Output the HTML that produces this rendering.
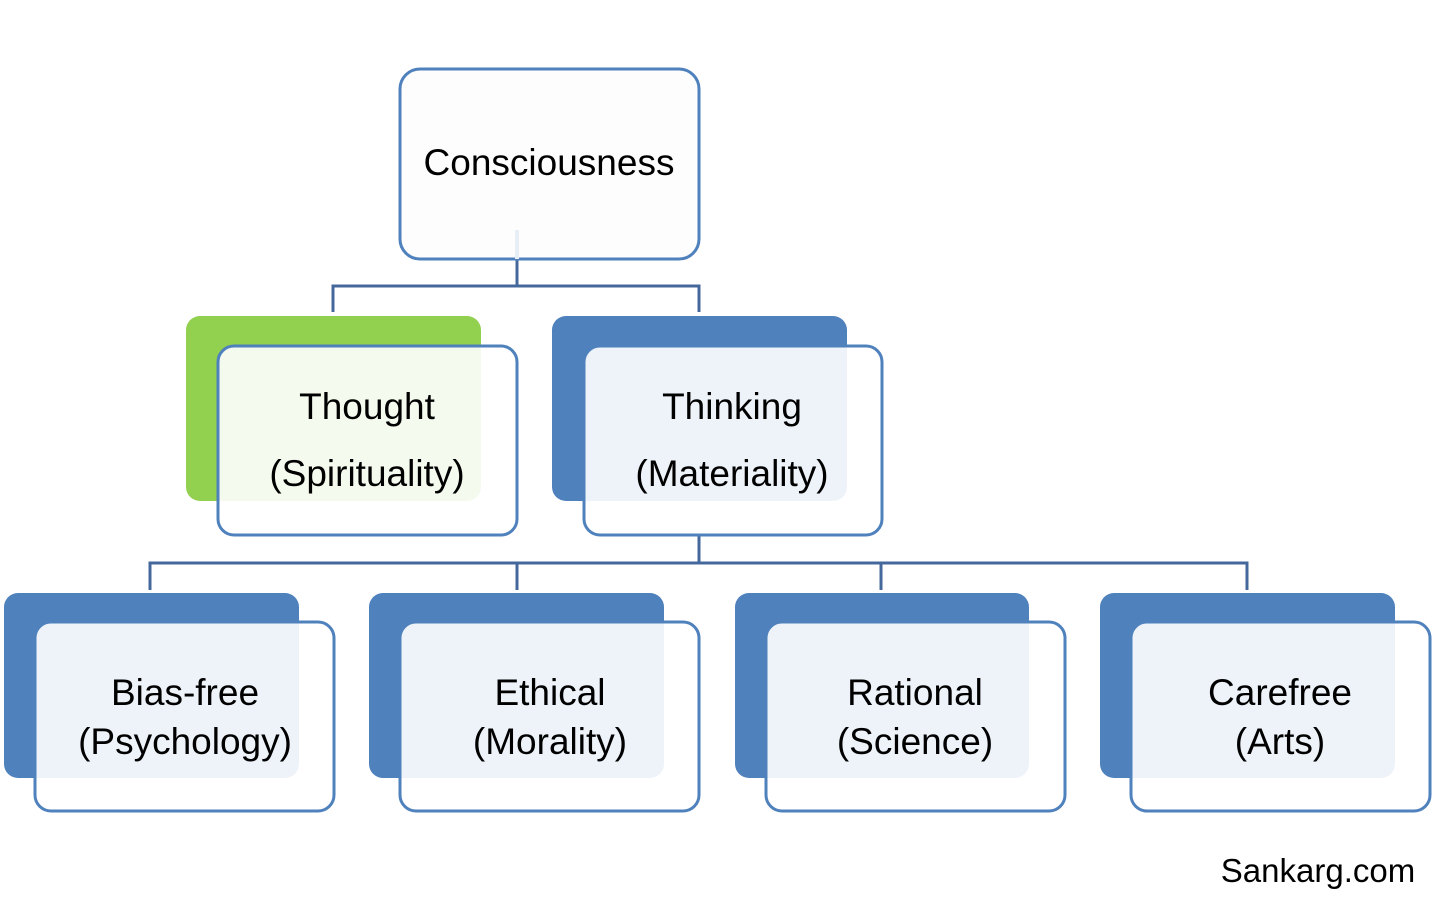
<!DOCTYPE html>
<html><head><meta charset="utf-8"><style>
html,body{margin:0;padding:0;background:#fff;width:1449px;height:914px;overflow:hidden}
text{font-family:"Liberation Sans",sans-serif;fill:#000;text-anchor:middle}
</style></head><body>
<svg width="1449" height="914" viewBox="0 0 1449 914" xmlns="http://www.w3.org/2000/svg">
<g fill="none" stroke="#44689c" stroke-width="3">
<path d="M517 260V286M333 312V286H699V312"/>
<path d="M699 536V563M150 590V563H1247V590M517 563V590M881 563V590"/>
</g>
<rect x="400" y="69" width="299" height="190" rx="20" fill="#fdfdfe" stroke="#4f81bd" stroke-width="3"/>
<text x="549" y="175" font-size="37">Consciousness</text>
<line x1="517" y1="230" x2="517" y2="259" stroke="#e8eef6" stroke-width="4"/>

<rect x="186" y="316" width="295" height="185" rx="14" fill="#92d050"/>
<rect x="218" y="346" width="299" height="189" rx="16" fill="#fff" fill-opacity="0.9" stroke="#4f81bd" stroke-width="3"/>
<text x="367" y="419" font-size="37">Thought</text>
<text x="367" y="486" font-size="37">(Spirituality)</text>

<rect x="552" y="316" width="295" height="185" rx="14" fill="#4f81bd"/>
<rect x="584" y="346" width="298" height="189" rx="16" fill="#fff" fill-opacity="0.9" stroke="#4f81bd" stroke-width="3"/>
<text x="732" y="419" font-size="37">Thinking</text>
<text x="732" y="486" font-size="37">(Materiality)</text>

<rect x="4" y="593" width="295" height="185" rx="14" fill="#4f81bd"/>
<rect x="35" y="622" width="299" height="189" rx="16" fill="#fff" fill-opacity="0.9" stroke="#4f81bd" stroke-width="3"/>
<text x="185" y="705" font-size="37">Bias-free</text>
<text x="185" y="754" font-size="37">(Psychology)</text>

<rect x="369" y="593" width="295" height="185" rx="14" fill="#4f81bd"/>
<rect x="400" y="622" width="299" height="189" rx="16" fill="#fff" fill-opacity="0.9" stroke="#4f81bd" stroke-width="3"/>
<text x="550" y="705" font-size="37">Ethical</text>
<text x="550" y="754" font-size="37">(Morality)</text>

<rect x="735" y="593" width="294" height="185" rx="14" fill="#4f81bd"/>
<rect x="766" y="622" width="299" height="189" rx="16" fill="#fff" fill-opacity="0.9" stroke="#4f81bd" stroke-width="3"/>
<text x="915" y="705" font-size="37">Rational</text>
<text x="915" y="754" font-size="37">(Science)</text>

<rect x="1100" y="593" width="295" height="185" rx="14" fill="#4f81bd"/>
<rect x="1131" y="622" width="299" height="189" rx="16" fill="#fff" fill-opacity="0.9" stroke="#4f81bd" stroke-width="3"/>
<text x="1280" y="705" font-size="37">Carefree</text>
<text x="1280" y="754" font-size="37">(Arts)</text>

<text x="1318" y="882" font-size="33">Sankarg.com</text>
</svg>
</body></html>
